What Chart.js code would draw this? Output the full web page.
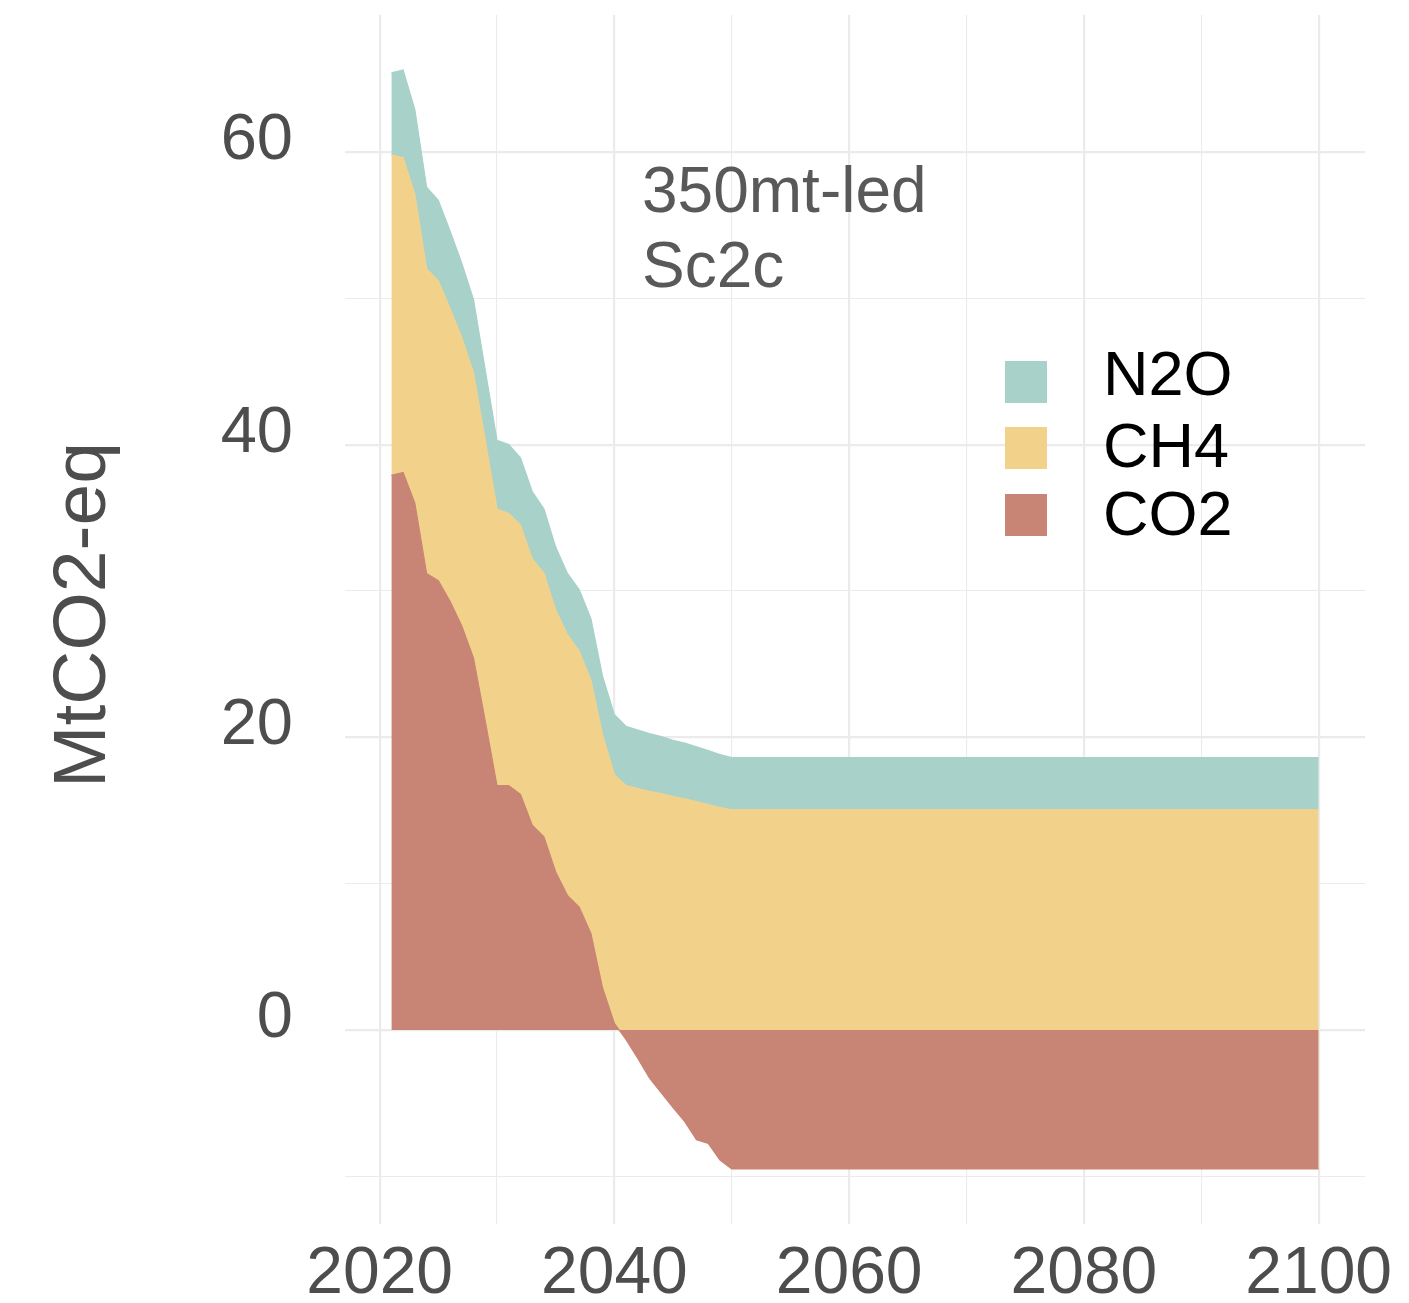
<!DOCTYPE html>
<html>
<head>
<meta charset="utf-8">
<title>350mt-led Sc2c emissions</title>
<script src="https://cdn.jsdelivr.net/npm/chart.js@4.4.1/dist/chart.umd.min.js"></script>
<style>
  html, body { margin: 0; padding: 0; background: #ffffff; }
  #wrap { width: 1409px; height: 1303px; }
</style>
</head>
<body>
<div id="wrap"><canvas id="c" width="1409" height="1303"></canvas></div>
<script>
// Emission pathway by gas (MtCO2-eq)
const years = [
  2021, 2022, 2023, 2024, 2025, 2026, 2027, 2028, 2029, 2030,
  2031, 2032, 2033, 2034, 2035, 2036, 2037, 2038, 2039, 2040,
  2041, 2042, 2043, 2044, 2045, 2046, 2047, 2048, 2049, 2050,
  2060, 2070, 2080, 2090, 2100
];
const co2 = [
  37.9, 38.1, 36.0, 31.2, 30.7, 29.3, 27.6, 25.4, 21.1, 16.7,
  16.7, 16.1, 14.0, 13.2, 10.8, 9.2, 8.4, 6.6, 2.85, 0.45,
  -0.66, -1.94, -3.3, -4.3, -5.3, -6.27, -7.5, -7.75, -8.9, -9.5,
  -9.5, -9.5, -9.5, -9.5, -9.5
];
const ch4 = [
  21.9, 21.5, 21.1, 20.8, 20.5, 20.0, 19.7, 19.5, 19.2, 18.9,
  18.6, 18.4, 18.2, 18.0, 17.9, 17.8, 17.5, 17.3, 17.3, 17.0,
  16.7, 16.5, 16.3, 16.15, 15.95, 15.8, 15.6, 15.4, 15.2, 15.05,
  15.05, 15.05, 15.05, 15.05, 15.05
];
const n2o = [
  5.6, 6.0, 5.8, 5.6, 5.5, 5.3, 5.1, 5.0, 4.8, 4.7,
  4.7, 4.6, 4.6, 4.4, 4.3, 4.2, 4.2, 4.2, 4.0, 4.1,
  4.05, 4.0, 3.95, 3.9, 3.85, 3.8, 3.75, 3.7, 3.62, 3.56,
  3.56, 3.56, 3.56, 3.56, 3.56
];
const xTicks = [2020, 2030, 2040, 2050, 2060, 2070, 2080, 2090, 2100];
const yTicks = [-10, 0, 10, 20, 30, 40, 50, 60];
const gasNames = ['CO2', 'CH4', 'N2O'];
const gasColors = ['#C88474', '#F2D28A', '#A8D1CA'];
const noteLines = ['350mt-led', 'Sc2c'];
const yTitle = 'MtCO2-eq';

const FONT = '"Liberation Sans", Arial, Helvetica, sans-serif';
const GRID = '#EBEBEB';

const whiteBg = {
  id: 'whiteBg',
  beforeDraw(chart) {
    const ctx = chart.ctx;
    ctx.save();
    ctx.fillStyle = '#ffffff';
    ctx.fillRect(0, 0, chart.width, chart.height);
    ctx.restore();
  }
};

// Axis title, annotation text and the key
const decorations = {
  id: 'decorations',
  afterDraw(chart) {
    const ctx = chart.ctx;
    ctx.save();
    // y-axis title
    ctx.translate(105, 615);
    ctx.rotate(-Math.PI / 2);
    ctx.fillStyle = '#4D4D4D';
    ctx.font = '75px ' + FONT;
    ctx.textAlign = 'center';
    ctx.textBaseline = 'alphabetic';
    ctx.fillText(yTitle, 0, 0);
    ctx.restore();

    ctx.save();
    ctx.fillStyle = '#595959';
    ctx.font = '64px ' + FONT;
    ctx.textAlign = 'left';
    ctx.textBaseline = 'alphabetic';
    ctx.fillText(noteLines[0], 642, 212);
    ctx.fillText(noteLines[1], 642, 287);
    ctx.restore();

    // key, listed top-down as N2O, CH4, CO2
    ctx.save();
    const order = [2, 1, 0];
    const boxTops = [361, 427, 494];
    const baselines = [395, 467, 535];
    ctx.font = '63px ' + FONT;
    ctx.textAlign = 'left';
    ctx.textBaseline = 'alphabetic';
    order.forEach((k, i) => {
      ctx.fillStyle = gasColors[k];
      ctx.fillRect(1005, boxTops[i], 42, 42);
      ctx.fillStyle = '#000000';
      ctx.fillText(gasNames[k], 1103, baselines[i]);
    });
    ctx.restore();
  }
};

const series = [co2, ch4, n2o];
const datasets = series.map((vals, k) => ({
  label: gasNames[k],
  data: vals,
  backgroundColor: gasColors[k],
  borderColor: gasColors[k],
  borderWidth: 1.2,
  pointRadius: 0,
  pointHoverRadius: 0,
  tension: 0,
  fill: k === 0 ? 'origin' : '-1'
}));

function noPad(scale) {
  scale.paddingTop = 0;
  scale.paddingBottom = 0;
  scale.paddingLeft = 0;
  scale.paddingRight = 0;
}

new Chart(document.getElementById('c'), {
  type: 'line',
  data: { labels: years, datasets },
  plugins: [whiteBg, decorations],
  options: {
    responsive: false,
    animation: false,
    events: [],
    layout: { padding: { top: 15, right: 44, left: 0, bottom: 0 } },
    plugins: {
      legend: { display: false },
      tooltip: { enabled: false },
      filler: { propagate: false }
    },
    scales: {
      x: {
        type: 'linear',
        min: 2017.05,
        max: 2103.95,
        afterBuildTicks(scale) { scale.ticks = xTicks.map(v => ({ value: v })); },
        afterFit(scale) { scale.height = 79; noPad(scale); },
        grid: {
          color: GRID,
          lineWidth: c => (c.tick && c.tick.value % 20 === 0) ? 2.2 : 1.1,
          drawTicks: false
        },
        border: { display: false },
        ticks: {
          autoSkip: false,
          maxRotation: 0,
          padding: 11,
          color: '#4D4D4D',
          font: { family: FONT, size: 66 },
          callback: v => (v % 20 === 0 ? String(v) : '')
        }
      },
      y: {
        type: 'linear',
        stacked: true,
        min: -13.26,
        max: 69.36,
        afterBuildTicks(scale) { scale.ticks = yTicks.map(v => ({ value: v })); },
        afterFit(scale) { scale.width = 345; noPad(scale); },
        grid: {
          color: GRID,
          lineWidth: c => (c.tick && c.tick.value % 20 === 0) ? 2.2 : 1.1,
          drawTicks: false
        },
        border: { display: false },
        ticks: {
          autoSkip: false,
          padding: 52,
          labelOffset: -11,
          color: '#4D4D4D',
          font: { family: FONT, size: 65 },
          callback: v => (v % 20 === 0 ? String(v) : '')
        }
      }
    }
  }
});
</script>
</body>
</html>
